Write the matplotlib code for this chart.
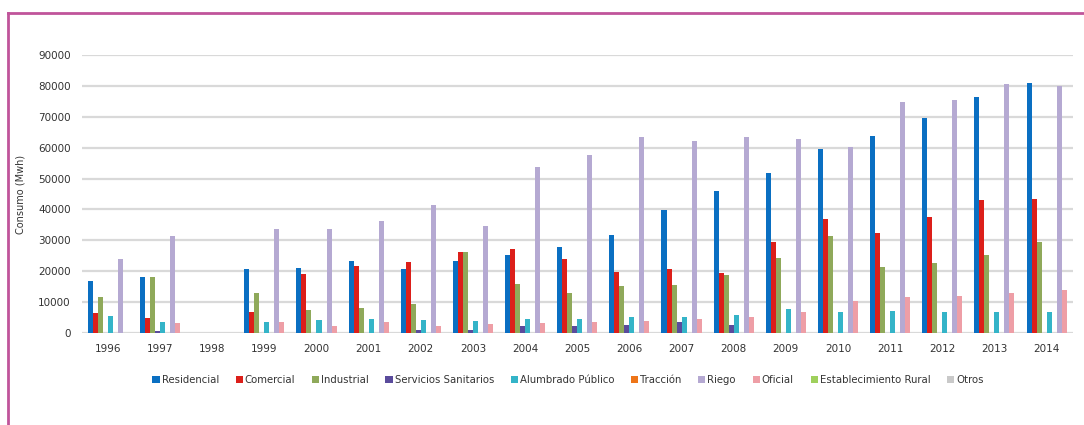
import matplotlib
matplotlib.use("Agg")
import matplotlib.pyplot as plt
from matplotlib.patches import Patch
from matplotlib.lines import Line2D
import numpy as np

years = [str(y) for y in range(1996, 2015)]

residencial = [16900, 18000, 0, 20800, 21200, 23200, 20700, 23200, 25300, 27800,
               31600, 39700, 46100, 51900, 59500, 63900, 69500, 76500, 81000]
comercial = [6500, 4800, 0, 6800, 19100, 21600, 23000, 26100, 27300, 23900,
             19600, 20800, 19400, 29400, 37000, 32300, 37700, 43100, 43400]
industrial = [11500, 18000, 0, 12900, 7500, 8100, 9400, 26100, 15900, 12900,
              15100, 15400, 18900, 24200, 31300, 21300, 22800, 25300, 29300]
servicios_sanitarios = [0, 800, 0, 0, 0, 0, 1100, 1100, 2200, 2400,
                        2700, 3400, 2700, 0, 0, 0, 0, 0, 0]
alumbrado_publico = [5400, 3600, 0, 3600, 4100, 4500, 4100, 4000, 4500, 4600,
                     5200, 5200, 5900, 7800, 6800, 7000, 6800, 6800, 6800]
traccion = [0] * 19
riego = [24000, 31500, 0, 33600, 33800, 36400, 41500, 34700, 53600, 57700,
         63300, 62300, 63300, 62800, 60300, 74900, 75600, 80500, 80000]
oficial = [0, 3200, 0, 3600, 2200, 3400, 2400, 3000, 3200, 3600,
           4000, 4600, 5200, 6800, 10500, 11500, 12100, 12900, 13800]

bar_series = [
    ("Residencial", residencial, "#0a6fc2"),
    ("Comercial", comercial, "#dc1f1a"),
    ("Industrial", industrial, "#8fa95a"),
    ("Servicios Sanitarios", servicios_sanitarios, "#5a4b9c"),
    ("Alumbrado Público", alumbrado_publico, "#34b4c8"),
    ("Tracción", traccion, "#ee7518"),
    ("Riego", riego, "#b5a9d2"),
    ("Oficial", oficial, "#ee9ea6"),
]
legend_only = [
    ("Establecimiento Rural", "#9fd05c"),
    ("Otros", "#c9c9c9"),
]

yticks = list(range(0, 90001, 10000))

fig = plt.figure(figsize=(10.84, 4.25), dpi=100)
ax = fig.add_axes([0.0755, 0.2165, 0.914, 0.654])

x = np.arange(len(years))
n = len(bar_series)
w = 0.096
for i, (name, vals, col) in enumerate(bar_series):
    ax.bar(x + (i - (n - 1) / 2) * w, vals, width=w, color=col, label=name,
           linewidth=0, zorder=3)

ax.set_xlim(-0.5, len(years) - 0.5)
ax.set_ylim(0, 90000)
ax.set_yticks(yticks)
ax.set_yticklabels([str(t) for t in yticks])
ax.set_xticks(x)
ax.set_xticklabels(years)
ax.tick_params(axis="both", length=0, labelsize=7.5, colors="#333333")
ax.tick_params(axis="y", pad=8)
ax.tick_params(axis="x", pad=8)
for s in ax.spines.values():
    s.set_visible(False)
ax.yaxis.grid(True, color="#d9d9d9", linewidth=1.6, zorder=0)
ax.set_axisbelow(True)
ax.set_ylabel("Consumo (Mwh)", fontsize=7, color="#333333", labelpad=9)

handles = [Patch(facecolor=c, edgecolor="none") for _, _, c in bar_series]
labels = [nm for nm, _, _ in bar_series]
handles += [Patch(facecolor=c, edgecolor="none") for _, c in legend_only]
labels += [nm for nm, _ in legend_only]
fig.legend(handles, labels, loc="center", bbox_to_anchor=(0.524, 0.105),
           ncol=10, frameon=False, fontsize=7.3, handlelength=0.7,
           handleheight=0.7, handletextpad=0.2, columnspacing=1.65,
           labelcolor="#333333")

# magenta frame
fc = "#c0549a"
fig.add_artist(Line2D([8 / 1084, 1.0], [1 - 13 / 425, 1 - 13 / 425],
                      transform=fig.transFigure, color=fc, linewidth=2))
fig.add_artist(Line2D([8 / 1084, 8 / 1084], [0.0, 1 - 13 / 425],
                      transform=fig.transFigure, color=fc, linewidth=2))

fig.savefig("out.png", dpi=100, facecolor="white")
